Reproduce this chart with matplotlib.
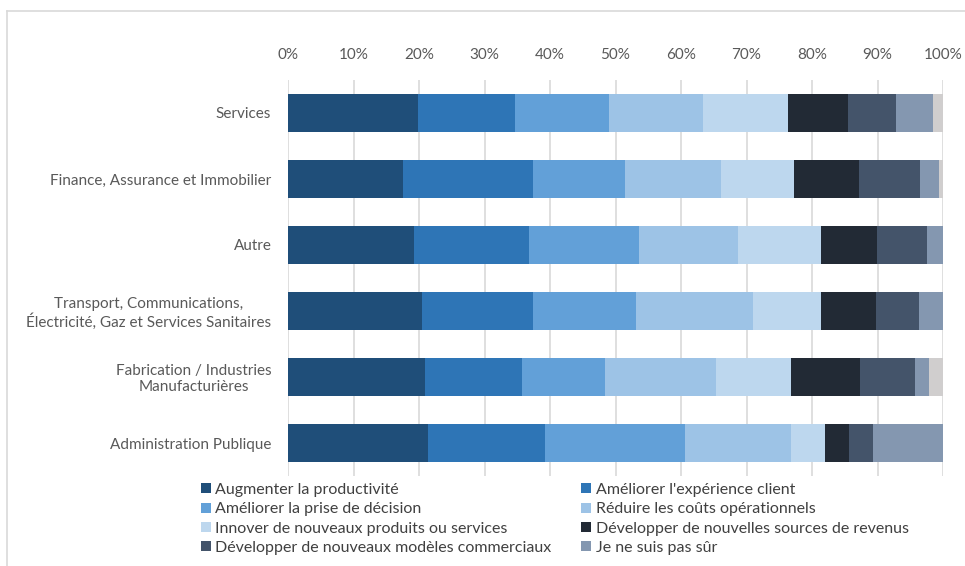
import matplotlib
matplotlib.use("Agg")
import matplotlib.pyplot as plt
from matplotlib.lines import Line2D
import numpy as np

plt.rcParams['font.family'] = ['Lato', 'DejaVu Sans']

# Secteurs (de haut en bas)
secteurs = [
    "Services",
    "Finance, Assurance et Immobilier",
    "Autre",
    "Transport, Communications,\nÉlectricité, Gaz et Services Sanitaires",
    "Fabrication / Industries\nManufacturières",
    "Administration Publique",
]

objectifs = [
    "Augmenter la productivité",
    "Améliorer l'expérience client",
    "Améliorer la prise de décision",
    "Réduire les coûts opérationnels",
    "Innover de nouveaux produits ou services",
    "Développer de nouvelles sources de revenus",
    "Développer de nouveaux modèles commerciaux",
    "Je ne suis pas sûr",
    "Autre réponse",
]

# Parts (%) par objectif, dans l'ordre des secteurs
augmenter_productivite = [19.8, 17.5, 19.3, 20.4, 20.9, 21.3]
experience_client      = [14.8, 19.9, 17.5, 16.95, 14.8, 17.9]
prise_decision         = [14.45, 14.05, 16.8, 15.85, 12.7, 21.4]
reduire_couts          = [14.25, 14.7, 15.1, 17.8, 16.9, 16.2]
innover                = [13.0, 11.1, 12.6, 10.3, 11.5, 5.2]
nouvelles_sources      = [9.2, 9.85, 8.7, 8.4, 10.6, 3.7]
nouveaux_modeles       = [7.3, 9.35, 7.5, 6.6, 8.35, 3.6]
pas_sur                = [5.6, 2.95, 2.5, 3.7, 2.1, 10.7]
autre_reponse          = [1.6, 0.6, 0.0, 0.0, 2.15, 0.0]

series = [augmenter_productivite, experience_client, prise_decision, reduire_couts,
          innover, nouvelles_sources, nouveaux_modeles, pas_sur, autre_reponse]

couleurs = ["#1F4E79", "#2E75B6", "#62A0D8", "#9DC3E6", "#BDD7EE",
            "#222A35", "#44546A", "#8497B0", "#D0CECE"]

W, H = 965, 566
fig = plt.figure(figsize=(W / 100, H / 100), dpi=100)
ax = fig.add_axes([288 / W, 1 - 476 / H, (943 - 288) / W, (476 - 80) / H])

y = np.arange(len(secteurs))
gauche = np.zeros(len(secteurs))
barres = []
for i, (vals, c) in enumerate(zip(series, couleurs)):
    vals = np.array(vals)
    lab = objectifs[i] if i < 8 else "_nolegend_"
    b = ax.barh(y, vals, left=gauche, height=0.575, color=c, label=lab, zorder=3)
    barres.append(b)
    gauche += vals

ax.set_xlim(0, 100)
ax.set_ylim(len(secteurs) - 0.5, -0.5)
ax.set_xticks(np.arange(0, 101, 10))
ax.set_xticklabels([f"{v}%" for v in range(0, 101, 10)])
ax.xaxis.tick_top()
ax.set_yticks(y)
ax.set_yticklabels(secteurs)
for t in ax.get_yticklabels():
    t.set_multialignment('center')
    t.set_linespacing(1.15)

ax.tick_params(axis='both', length=0, labelsize=11, labelcolor="#595959")
ax.tick_params(axis='x', pad=13)
ax.tick_params(axis='y', pad=12)
ax.grid(axis='x', color="#D9D9D9", linewidth=1.2, zorder=0)
for s in ax.spines.values():
    s.set_visible(False)

# Légende en deux colonnes, remplie ligne par ligne
handles = [barres[i] for i in range(8)]
ordre = [0, 2, 4, 6, 1, 3, 5, 7]
leg = fig.legend([handles[i] for i in ordre], [objectifs[i] for i in ordre],
                 ncol=2, loc='upper left', bbox_to_anchor=(201 / W, 1 - 483 / H),
                 frameon=False, fontsize=11.5, handlelength=0.6, handleheight=0.6,
                 handletextpad=0.3, columnspacing=1.85, labelspacing=0.33,
                 borderpad=0, borderaxespad=0)
for t in leg.get_texts():
    t.set_color("#404040")

# Cadre de la zone de graphique
fig.add_artist(Line2D([7 / W, 1.0], [1 - 11 / H, 1 - 11 / H], color="#D9D9D9", lw=1.2))
fig.add_artist(Line2D([7 / W, 7 / W], [0.0, 1 - 11 / H], color="#D9D9D9", lw=1.2))

fig.savefig("out.png", dpi=100)
